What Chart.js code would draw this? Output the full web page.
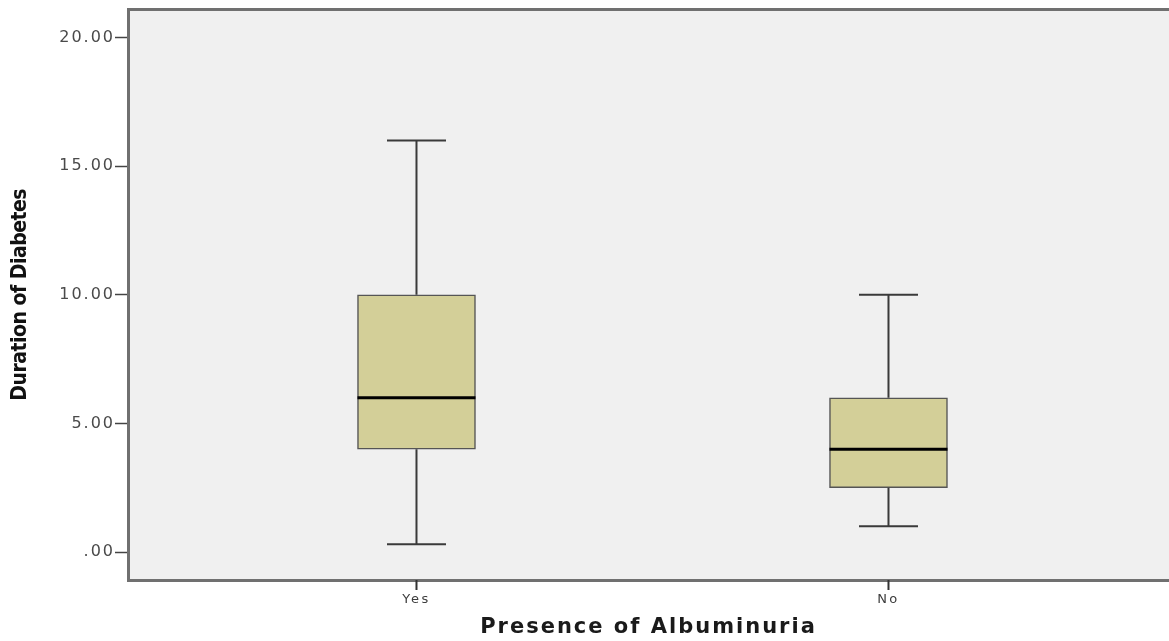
<!DOCTYPE html>
<html>
<head>
<meta charset="utf-8">
<title>Duration of Diabetes by Presence of Albuminuria</title>
<script src="https://cdn.jsdelivr.net/npm/chart.js@4.4.1/dist/chart.umd.min.js"></script>
<style>
  html, body { margin: 0; padding: 0; background: #ffffff; }
  canvas { display: block; }
</style>
</head>
<body>
<canvas id="boxChart" width="1169" height="641"></canvas>
<script>
// categories and five-number summaries
const categories = ['Yes', 'No'];
const whiskerLow = [0.3, 1];
const q1 = [4, 2.5];
const median = [6, 4];
const q3 = [10, 6];
const whiskerHigh = [16, 10];
const yTicks = [0, 5, 10, 15, 20];

// letter spacing per scale (the original picture is stretched sideways)
const spacing = {
    x: { labels: '2.5px', title: '2px' },
    y: { labels: '2px', title: '-0.5px' }
};

const letterSpacingPlugin = {
    id: 'letterSpacing',
    beforeDraw(chart) {
        Object.values(chart.scales).forEach(scale => {
            if (scale._spaced) return;
            const cfg = spacing[scale.id];
            ['drawLabels', 'drawTitle'].forEach((fn, i) => {
                const orig = scale[fn].bind(scale);
                scale[fn] = function(...args) {
                    const ctx = scale.ctx;
                    const prev = ctx.letterSpacing;
                    ctx.letterSpacing = i === 0 ? cfg.labels : cfg.title;
                    orig(...args);
                    ctx.letterSpacing = prev;
                };
            });
            scale._spaced = true;
        });
    }
};

// grey plot background, top frame line, tick marks under the x axis
const plotBackground = {
    id: 'plotBackground',
    beforeDraw(chart) {
        const { ctx, chartArea: a } = chart;
        ctx.save();
        ctx.fillStyle = '#f0f0f0';
        ctx.fillRect(a.left, a.top, a.right - a.left, a.bottom - a.top);
        ctx.strokeStyle = '#707070';
        ctx.lineWidth = 3;
        ctx.beginPath();
        ctx.moveTo(a.left, a.top);
        ctx.lineTo(a.right, a.top);
        ctx.stroke();
        ctx.restore();
    },
    afterDraw(chart) {
        const { ctx, chartArea: a, scales: { x } } = chart;
        ctx.save();
        ctx.strokeStyle = '#333333';
        ctx.lineWidth = 2;
        ctx.beginPath();
        categories.forEach((c, i) => {
            const px = x.getPixelForValue(i + 1);
            ctx.moveTo(px, a.bottom);
            ctx.lineTo(px, a.bottom + 10);
        });
        ctx.stroke();
        ctx.restore();
    }
};

// whiskers, caps and median lines, placed with the chart's scales
const boxWhiskers = {
    id: 'boxWhiskers',
    afterDatasetsDraw(chart) {
        const { ctx, scales: { y } } = chart;
        const meta = chart.getDatasetMeta(0);
        ctx.save();
        meta.data.forEach((bar, i) => {
            const cx = bar.x;
            const half = bar.width / 2;
            const cap = bar.width / 4;
            const yLow = y.getPixelForValue(whiskerLow[i]);
            const yQ1 = y.getPixelForValue(q1[i]);
            const yQ3 = y.getPixelForValue(q3[i]);
            const yHigh = y.getPixelForValue(whiskerHigh[i]);
            const yMed = y.getPixelForValue(median[i]);

            ctx.strokeStyle = '#3a3a3a';
            ctx.lineWidth = 2;
            ctx.beginPath();
            ctx.moveTo(cx, yQ1); ctx.lineTo(cx, yLow);
            ctx.moveTo(cx, yQ3); ctx.lineTo(cx, yHigh);
            ctx.moveTo(cx - cap, yLow); ctx.lineTo(cx + cap, yLow);
            ctx.moveTo(cx - cap, yHigh); ctx.lineTo(cx + cap, yHigh);
            ctx.stroke();

            ctx.strokeStyle = '#000000';
            ctx.lineWidth = 3;
            ctx.beginPath();
            ctx.moveTo(cx - half, yMed);
            ctx.lineTo(cx + half, yMed);
            ctx.stroke();
        });
        ctx.restore();
    }
};

new Chart(document.getElementById('boxChart').getContext('2d'), {
    type: 'bar',
    data: {
        datasets: [{
            label: 'Duration of Diabetes',
            data: categories.map((c, i) => ({ x: i + 1, y: [q1[i], q3[i]] })),
            backgroundColor: '#d3cf98',
            borderColor: '#555555',
            borderWidth: 1.5,
            borderSkipped: false,
            barThickness: 118
        }]
    },
    options: {
        responsive: false,
        animation: false,
        layout: { padding: { top: 8, right: 0, left: 0, bottom: 0 } },
        plugins: {
            legend: { display: false },
            tooltip: { enabled: false }
        },
        scales: {
            x: {
                type: 'linear',
                min: 0.3888,
                max: 2.5943,
                offset: false,
                afterFit(scale) { scale.height = 61; },
                afterBuildTicks(scale) {
                    scale.ticks = categories.map((c, i) => ({ value: i + 1 }));
                },
                ticks: {
                    callback: (v) => categories[v - 1],
                    color: '#3c3c3c',
                    font: { family: 'DejaVu Sans', size: 13 },
                    padding: 4,
                    maxRotation: 0
                },
                grid: { display: false },
                border: { display: true, color: '#707070', width: 3 },
                title: {
                    display: true,
                    text: 'Presence of Albuminuria',
                    color: '#1a1a1a',
                    font: { family: 'DejaVu Sans', size: 21, weight: 'bold' },
                    padding: { top: 0, bottom: 1 }
                }
            },
            y: {
                min: -1.085,
                max: 21.085,
                afterFit(scale) { scale.width = 128; },
                afterBuildTicks(scale) {
                    scale.ticks = yTicks.map(v => ({ value: v }));
                },
                ticks: {
                    callback: (v) => v === 0 ? '.00' : v.toFixed(2),
                    color: '#4a4a4a',
                    font: { family: 'DejaVu Sans', size: 16 },
                    padding: 0
                },
                grid: {
                    drawOnChartArea: false,
                    tickLength: 13,
                    tickColor: '#444444',
                    tickWidth: 1.5
                },
                border: { display: true, color: '#707070', width: 3 },
                title: {
                    display: true,
                    text: 'Duration of Diabetes',
                    color: '#111111',
                    font: { family: "'DejaVu Sans Condensed', 'DejaVu Sans', sans-serif", size: 21, weight: 'bold' },
                    padding: { top: 8, bottom: 0 }
                }
            }
        }
    },
    plugins: [plotBackground, boxWhiskers, letterSpacingPlugin]
});
</script>
</body>
</html>
